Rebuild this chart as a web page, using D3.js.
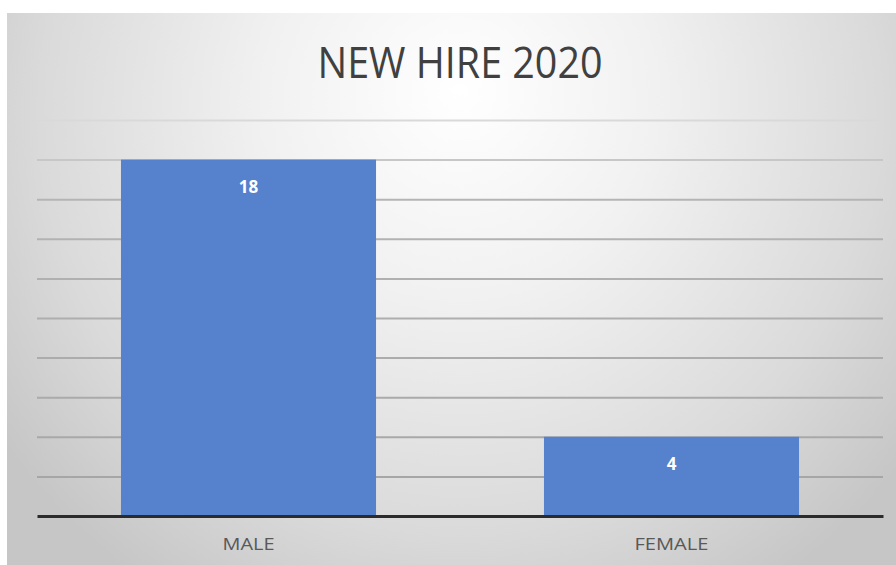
<!DOCTYPE html>
<html>
<head>
<meta charset="utf-8">
<script src="https://cdn.jsdelivr.net/npm/d3@7"></script>
<style>
  html, body { margin: 0; padding: 0; background: #ffffff; }
  svg { display: block; }
</style>
</head>
<body>
<svg id="chart" width="896" height="565"></svg>
<script>
// New hires in 2020 by gender
const categories = ["MALE", "FEMALE"];
const hires = [18, 4];
const yTicks = [0, 2, 4, 6, 8, 10, 12, 14, 16, 18, 20];
const chartTitle = "NEW HIRE 2020";

const W = 896, H = 565;
const svg = d3.select("#chart");

// Chart area background with a soft radial light
const defs = svg.append("defs");
const grad = defs.append("radialGradient")
  .attr("id", "bgGrad")
  .attr("gradientUnits", "userSpaceOnUse")
  .attr("cx", 460).attr("cy", 120).attr("r", 560)
  .attr("fx", 460).attr("fy", 90);
grad.append("stop").attr("offset", "0%").attr("stop-color", "#ffffff");
grad.append("stop").attr("offset", "35%").attr("stop-color", "#f1f1f1");
grad.append("stop").attr("offset", "75%").attr("stop-color", "#dadada");
grad.append("stop").attr("offset", "100%").attr("stop-color", "#c6c6c6");

svg.append("rect")
  .attr("x", 7).attr("y", 13)
  .attr("width", W - 7).attr("height", H - 13)
  .attr("fill", "url(#bgGrad)");

const margin = { left: 37, right: 13, top: 120, bottom: 49 };
const plotBottom = H - margin.bottom; // 516

const x = d3.scaleBand()
  .domain(categories)
  .range([margin.left, W - margin.right])
  .paddingInner(0.397)
  .paddingOuter(0.1985);

const y = d3.scaleLinear()
  .domain([0, 20])
  .range([plotBottom, margin.top]);

// Gridlines fade out toward the bright top of the panel
const gridColor = d3.scaleLinear()
  .domain([20, 16, 0])
  .range(["#d9d9d9", "#b4b4b4", "#a4a4a4"]);

const grid = svg.append("g")
  .attr("transform", `translate(${margin.left},0)`)
  .call(d3.axisLeft(y)
    .tickValues(yTicks.filter(v => v > 0))
    .tickSize(-(W - margin.right - margin.left))
    .tickFormat(""));
grid.select(".domain").remove();
grid.selectAll(".tick line")
  .attr("stroke", d => gridColor(d))
  .attr("stroke-width", 2);

// Bars
svg.append("g")
  .selectAll("rect")
  .data(categories)
  .join("rect")
  .attr("x", d => x(d))
  .attr("width", x.bandwidth())
  .attr("y", (d, i) => y(hires[i]))
  .attr("height", (d, i) => plotBottom - y(hires[i]))
  .attr("fill", "#5681cc");

// Value labels inside the bar tops
svg.append("g")
  .selectAll("text")
  .data(categories)
  .join("text")
  .attr("x", d => x(d) + x.bandwidth() / 2)
  .attr("y", (d, i) => y(hires[i]) + 33)
  .attr("text-anchor", "middle")
  .attr("font-family", "'Open Sans', 'DejaVu Sans', sans-serif")
  .attr("font-weight", 700)
  .attr("font-size", 17)
  .attr("fill", "#ffffff")
  .text((d, i) => hires[i]);

// Category axis
const xAxis = svg.append("g")
  .attr("transform", `translate(0,${plotBottom})`)
  .call(d3.axisBottom(x).tickSize(0).tickPadding(22));
xAxis.select(".domain")
  .attr("stroke", "#2b2b2b")
  .attr("stroke-width", 3);
xAxis.selectAll(".tick text")
  .attr("font-family", "'Open Sans', 'DejaVu Sans', sans-serif")
  .attr("font-size", 17)
  .attr("fill", "#595959")
  .attr("dy", "0.71em")
  .each(function(d) {
    d3.select(this)
      .attr("textLength", d === "MALE" ? 52 : 74)
      .attr("lengthAdjust", "spacingAndGlyphs");
  });

// Title
svg.append("text")
  .attr("x", 460)
  .attr("y", 78)
  .attr("text-anchor", "middle")
  .attr("font-family", "'Open Sans', 'DejaVu Sans', sans-serif")
  .attr("font-size", 43)
  .attr("fill", "#404040")
  .attr("textLength", 285)
  .attr("lengthAdjust", "spacingAndGlyphs")
  .text(chartTitle);
</script>
</body>
</html>
